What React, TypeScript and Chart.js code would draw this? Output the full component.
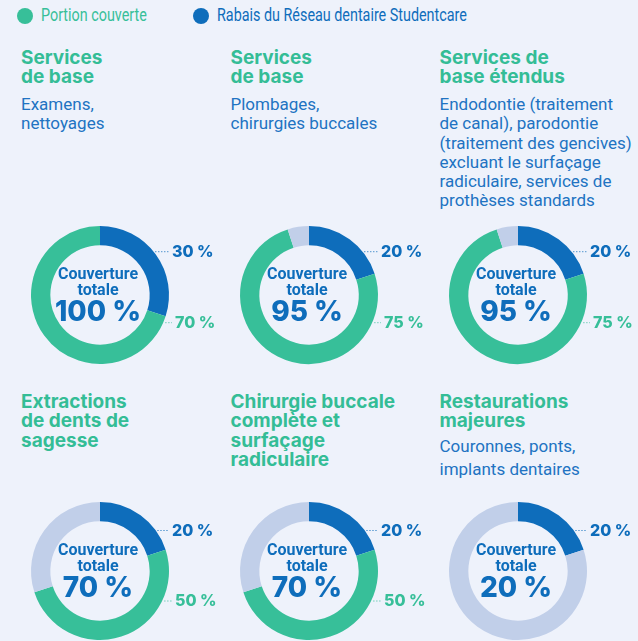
import React, { useEffect, useRef } from 'react';
import { Chart, registerables } from 'chart.js';

Chart.register(...registerables);

// ---- data ----
const legendLabels = ['Portion couverte', 'Rabais du Réseau dentaire Studentcare'];
const segmentLabels = ['Rabais du Réseau dentaire Studentcare', 'Portion couverte', 'Non couvert'];
const titles: string[][] = [
  ['Services', 'de base'],
  ['Services', 'de base'],
  ['Services de', 'base étendus'],
  ['Extractions', 'de dents de', 'sagesse'],
  ['Chirurgie buccale', 'complète et', 'surfaçage', 'radiculaire'],
  ['Restaurations', 'majeures'],
];
const subtitles: string[][] = [
  ['Examens,', 'nettoyages'],
  ['Plombages,', 'chirurgies buccales'],
  ['Endodontie (traitement', 'de canal), parodontie', '(traitement des gencives)', 'excluant le surfaçage', 'radiculaire, services de', 'prothèses standards'],
  [],
  [],
  ['Couronnes, ponts,', 'implants dentaires'],
];
const discount = [30, 20, 20, 20, 20, 20];
const covered = [70, 75, 75, 50, 50, 0];
const uncovered = [0, 5, 5, 30, 30, 80];
const totals = [100, 95, 95, 70, 70, 20];

// ---- styles ----
const BG = '#eef2fb';
const BLUE = '#0e6dbb';
const GREEN = '#37bf99';
const GREY = '#c1cfe9';
const TEXT_BLUE = '#2173c2';
const TITLE_GREEN = '#34bd96';

const colX = [21, 230.5, 439.5];
const centerX = [100, 309, 518];
const rowTitleTop = [48, 392];
const centerY = [295, 571];
const labelBase = [
  [-38.3, 32.7],
  [-35.5, 35],
];
const subMargin = [8.5, 8.5, 8.5, 8.5, 8.5, 4.5];
const subLine = [19.2, 19.2, 19.2, 19.2, 19.2, 22.5];
const R = 69;
const CUT = 54;
const CW = 240;
const CH = 150;

const donutPlugin = {
  id: 'donutText',
  afterDraw(chart: any, _args: any, opts: any) {
    const ctx = chart.ctx as CanvasRenderingContext2D;
    const area = chart.chartArea;
    const cx = (area.left + area.right) / 2;
    const cy = (area.top + area.bottom) / 2;
    ctx.save();
    ctx.textAlign = 'center';
    ctx.textBaseline = 'alphabetic';
    ctx.fillStyle = BLUE;
    ctx.font = 'bold 16px Roboto';
    ctx.fillText('Couverture', cx - 2, cy - 16);
    ctx.fillText('totale', cx - 2, cy);
    ctx.font = '800 28px Inter';
    ctx.fillText(`${opts.total} %`, cx - 2, cy + 26);

    const items = [
      { v: opts.blue, color: BLUE, base: opts.lb[0], x: 72 },
      { v: opts.green, color: GREEN, base: opts.lb[1], x: 75 },
    ];
    ctx.textAlign = 'left';
    ctx.font = '800 16px Inter';
    for (const it of items) {
      if (!it.v) continue;
      const ly = cy + it.base - 5.5;
      const dy = ly - cy;
      const edge = Math.sqrt(Math.max(R * R - dy * dy, 0));
      ctx.strokeStyle = it.color;
      ctx.lineWidth = 1;
      ctx.setLineDash([1, 2]);
      ctx.beginPath();
      ctx.moveTo(cx + edge + 2, ly + 0.5);
      ctx.lineTo(cx + it.x - 3, ly + 0.5);
      ctx.stroke();
      ctx.setLineDash([]);
      ctx.fillStyle = it.color;
      ctx.fillText(`${it.v} %`, cx + it.x, cy + it.base);
    }
    ctx.restore();
  },
};

function Donut({ idx }: { idx: number }) {
  const ref = useRef<HTMLCanvasElement>(null);
  const row = Math.floor(idx / 3);
  const col = idx % 3;
  useEffect(() => {
    const chart = new Chart(ref.current!, {
      type: 'doughnut',
      data: {
        labels: segmentLabels,
        datasets: [
          {
            data: [discount[idx], covered[idx], uncovered[idx]],
            backgroundColor: [BLUE, GREEN, GREY],
            borderWidth: 0,
            hoverOffset: 0,
            offset: 0,
          },
        ],
      },
      options: {
        responsive: false,
        animation: false,
        events: [],
        radius: R,
        cutout: CUT,
        layout: { padding: 0 },
        plugins: {
          legend: { display: false },
          tooltip: { enabled: false },
          donutText: {
            total: totals[idx],
            blue: discount[idx],
            green: covered[idx],
            lb: labelBase[row],
          },
        } as any,
      } as any,
      plugins: [donutPlugin as any],
    });
    return () => chart.destroy();
  }, [idx]);
  return (
    <canvas
      ref={ref}
      width={CW}
      height={CH}
      style={{
        position: 'absolute',
        left: centerX[col] - CW / 2,
        top: centerY[row] - CH / 2,
        width: CW,
        height: CH,
      }}
    />
  );
}

function Cell({ idx }: { idx: number }) {
  const row = Math.floor(idx / 3);
  const col = idx % 3;
  return (
    <div style={{ position: 'absolute', left: colX[col], top: rowTitleTop[row], width: 200 }}>
      <div
        style={{
          fontFamily: 'Inter, sans-serif',
          fontWeight: 700,
          fontSize: 19,
          lineHeight: '19.3px',
          color: TITLE_GREEN,
          whiteSpace: 'nowrap',
        }}
      >
        {titles[idx].map((t, i) => (
          <div key={i}>{t}</div>
        ))}
      </div>
      {subtitles[idx].length > 0 && (
        <div
          style={{
            marginTop: subMargin[idx],
            fontFamily: 'Roboto, sans-serif',
            fontSize: 17,
            lineHeight: `${subLine[idx]}px`,
            color: TEXT_BLUE,
            whiteSpace: 'nowrap',
          }}
        >
          {subtitles[idx].map((t, i) => (
            <div key={i}>{t}</div>
          ))}
        </div>
      )}
    </div>
  );
}

export default function App() {
  const legendColors = [GREEN, BLUE];
  const legendX = [17, 193];
  return (
    <div
      style={{
        position: 'absolute',
        left: 0,
        top: 0,
        width: 638,
        height: 641,
        overflow: 'hidden',
        background: BG,
      }}
    >
      {legendLabels.map((l, i) => (
        <React.Fragment key={i}>
          <div
            style={{
              position: 'absolute',
              left: legendX[i],
              top: 8,
              width: 16,
              height: 16,
              borderRadius: '50%',
              background: legendColors[i],
            }}
          />
          <div
            style={{
              position: 'absolute',
              left: legendX[i] + 24,
              top: 5,
              fontFamily: 'Roboto, sans-serif',
              fontSize: 17.5,
              lineHeight: '20px',
              color: legendColors[i],
              whiteSpace: 'nowrap',
              transform: 'scaleX(0.82)',
              transformOrigin: 'left center',
            }}
          >
            {l}
          </div>
        </React.Fragment>
      ))}
      {[0, 1, 2, 3, 4, 5].map((i) => (
        <Cell key={'c' + i} idx={i} />
      ))}
      {[0, 1, 2, 3, 4, 5].map((i) => (
        <Donut key={'d' + i} idx={i} />
      ))}
    </div>
  );
}
